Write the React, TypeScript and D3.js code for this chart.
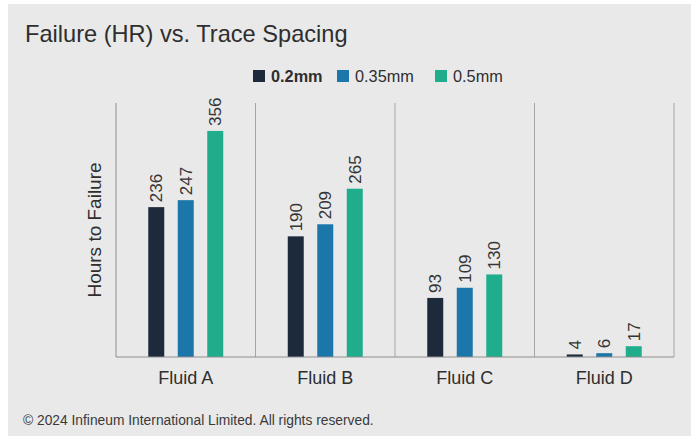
import React from "react";
import * as d3 from "d3";

// Hours to failure per fluid, grouped by trace spacing
const fluids = ["Fluid A", "Fluid B", "Fluid C", "Fluid D"];
const spacings = ["0.2mm", "0.35mm", "0.5mm"];
const hours02 = [236, 190, 93, 4];
const hours035 = [247, 209, 109, 6];
const hours05 = [356, 265, 130, 17];
const yTicks = [0, 400];

const seriesValues = [hours02, hours035, hours05];
const colors = ["#1c2a3c", "#1b76aa", "#20ad8c"];

const W = 698;
const H = 436;
const FONT = "'Liberation Sans', Arial, Helvetica, sans-serif";

export default function App() {
  const plot = { left: 116, right: 674, top: 103, bottom: 357 };

  const x = d3.scaleBand<string>().domain(fluids).range([plot.left, plot.right]).padding(0);
  const y = d3.scaleLinear().domain([yTicks[0], yTicks[1]]).range([plot.bottom, plot.top]);

  const groupWidth = 88.5;
  const inner = d3
    .scaleBand<string>()
    .domain(spacings)
    .range([-groupWidth / 2, groupWidth / 2])
    .paddingInner(0.458)
    .paddingOuter(0.229);

  const legendX = [253, 337, 435];

  return (
    <div style={{ position: "absolute", left: 0, top: 0 }}>
      <svg width={W} height={H} style={{ display: "block", fontFamily: FONT }}>
        <rect x={0} y={0} width={W} height={H} fill="#ffffff" />
        <rect x={8} y={4} width={683} height={H - 4} fill="#e9e9e9" />

        <text x={25} y={42} fontSize={23.6} fill="#2e2e2e">
          Failure (HR) vs. Trace Spacing
        </text>

        {/* legend */}
        {spacings.map((s, i) => (
          <g key={s}>
            <rect x={legendX[i]} y={70} width={12} height={12} fill={colors[i]} />
            <text
              x={legendX[i] + 18}
              y={81.5}
              fontSize={16.3}
              fontWeight={i === 0 ? "bold" : "normal"}
              fill="#2e2e2e"
            >
              {s}
            </text>
          </g>
        ))}

        {/* category separators */}
        {fluids.map((f) => (
          <line
            key={f}
            x1={(x(f) as number) + x.bandwidth()}
            x2={(x(f) as number) + x.bandwidth()}
            y1={plot.top}
            y2={plot.bottom}
            stroke="#a6a6a6"
            strokeWidth={1}
          />
        ))}
        <line x1={plot.left} x2={plot.left} y1={plot.top} y2={plot.bottom} stroke="#8f8f8f" strokeWidth={1} />

        {/* bars and value labels */}
        {fluids.map((f, fi) => {
          const cx = (x(f) as number) + x.bandwidth() / 2;
          return (
            <g key={f}>
              {spacings.map((s, si) => {
                const v = seriesValues[si][fi];
                const bx = cx + (inner(s) as number);
                const by = y(v);
                const lx = bx + inner.bandwidth() / 2 + 6;
                const ly = by - 5;
                return (
                  <g key={s}>
                    <rect
                      x={bx}
                      y={by}
                      width={inner.bandwidth()}
                      height={y(0) - by}
                      fill={colors[si]}
                    />
                    <text
                      transform={`translate(${lx},${ly}) rotate(-90)`}
                      fontSize={17}
                      fill="#353535"
                    >
                      {v}
                    </text>
                  </g>
                );
              })}
              <text x={cx} y={384} fontSize={18} textAnchor="middle" fill="#2e2e2e">
                {f}
              </text>
            </g>
          );
        })}

        <line x1={plot.left} x2={plot.right} y1={plot.bottom} y2={plot.bottom} stroke="#8f8f8f" strokeWidth={1.2} />

        <text
          transform={`translate(101,${(plot.top + plot.bottom) / 2}) rotate(-90)`}
          fontSize={19}
          textAnchor="middle"
          fill="#2e2e2e"
        >
          Hours to Failure
        </text>

        <text x={23} y={425} fontSize={13.8} fill="#3a3a3a">
          © 2024 Infineum International Limited. All rights reserved.
        </text>
      </svg>
    </div>
  );
}
